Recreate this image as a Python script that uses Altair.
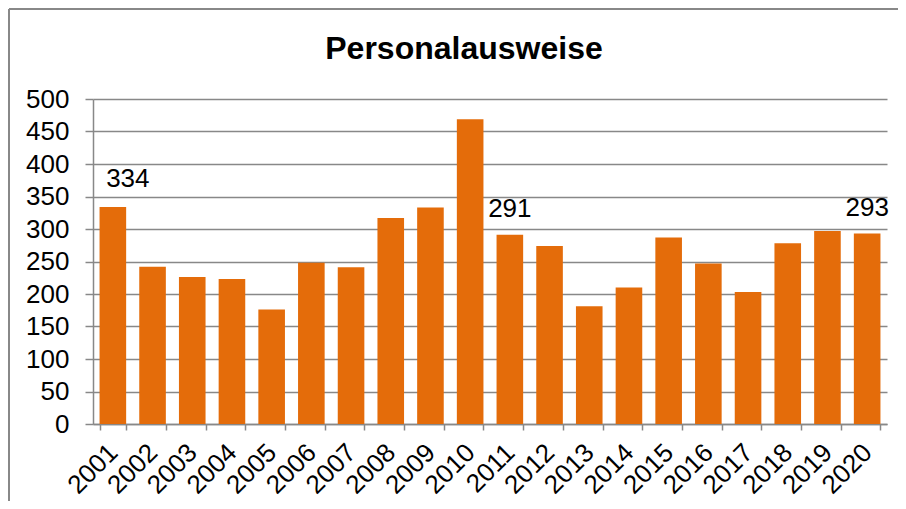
import altair as alt
import pandas as pd

FONT = "Liberation Sans"
GRAY = "#888888"
ORANGE = "#E46C0A"

years = [str(y) for y in range(2001, 2021)]
values = [334, 242, 226, 223, 176, 248, 241, 317, 333, 469,
          291, 274, 181, 210, 287, 247, 203, 278, 297, 293]
labeled_right = ["2011", "2020"]
labeled_shifted = ["2001"]
y_ticks = [0, 50, 100, 150, 200, 250, 300, 350, 400, 450, 500]

df = pd.DataFrame({"Jahr": years, "Anzahl": values})

x_enc = alt.X(
    "Jahr:N",
    sort=years,
    scale=alt.Scale(paddingInner=0.33, paddingOuter=0.165),
    axis=alt.Axis(
        title=None, labelAngle=-45, labelAlign="right", labelBaseline="top",
        labelFontSize=26, labelFont=FONT, labelColor="black",
        tickBand="extent", tickSize=6, tickColor=GRAY, tickWidth=1.5,
        domainColor=GRAY, domainWidth=1.5, labelPadding=9, labelOffset=-9,
        grid=False, labelOverlap=False,
    ),
)
y_enc = alt.Y(
    "Anzahl:Q",
    scale=alt.Scale(domain=[0, 500], nice=False),
    axis=alt.Axis(
        values=y_ticks, title=None, tickSize=8, tickColor=GRAY, tickWidth=1.5,
        labelPadding=16, labelFontSize=26, labelFont=FONT, labelColor="black",
        grid=True, gridColor=GRAY, gridWidth=1.5, labelOverlap=False,
        domainColor=GRAY, domainWidth=1.5,
    ),
)

base = alt.Chart(df)
bars = base.mark_bar(color=ORANGE).encode(x=x_enc, y=y_enc)

labels = base.transform_filter(
    alt.FieldOneOfPredicate(field="Jahr", oneOf=labeled_right)
).mark_text(dy=-18, baseline="alphabetic", fontSize=26, font=FONT, color="black").encode(
    x=x_enc, y=y_enc, text="Anzahl:Q"
)
labels_first = base.transform_filter(
    alt.FieldOneOfPredicate(field="Jahr", oneOf=labeled_shifted)
).mark_text(dy=-20, dx=15, baseline="alphabetic", fontSize=26, font=FONT, color="black").encode(
    x=x_enc, y=y_enc, text="Anzahl:Q"
)

one = alt.Chart(pd.DataFrame({"k": [0]}))
border_left = one.mark_rule(color=GRAY, strokeWidth=2).encode(
    x=alt.value(-84), y=alt.value(-90), y2=alt.value(402)
)
border_top = one.mark_rule(color=GRAY, strokeWidth=2).encode(
    x=alt.value(-84), x2=alt.value(805), y=alt.value(-90)
)

chart = alt.layer(bars, labels, labels_first, border_left, border_top).properties(
    width=794,
    height=325,
    autosize=alt.AutoSizeParams(type="none"),
    padding={"left": 85, "top": 91, "right": 11, "bottom": 77},
    title=alt.TitleParams(
        "Personalausweise", anchor="middle", frame="group", dx=-26,
        fontSize=32, font=FONT, fontWeight="bold", color="black",
        baseline="alphabetic", offset=-83,
    ),
).configure_view(stroke=None)

chart.save("out.html", embed_options={"renderer": "svg", "actions": False})
